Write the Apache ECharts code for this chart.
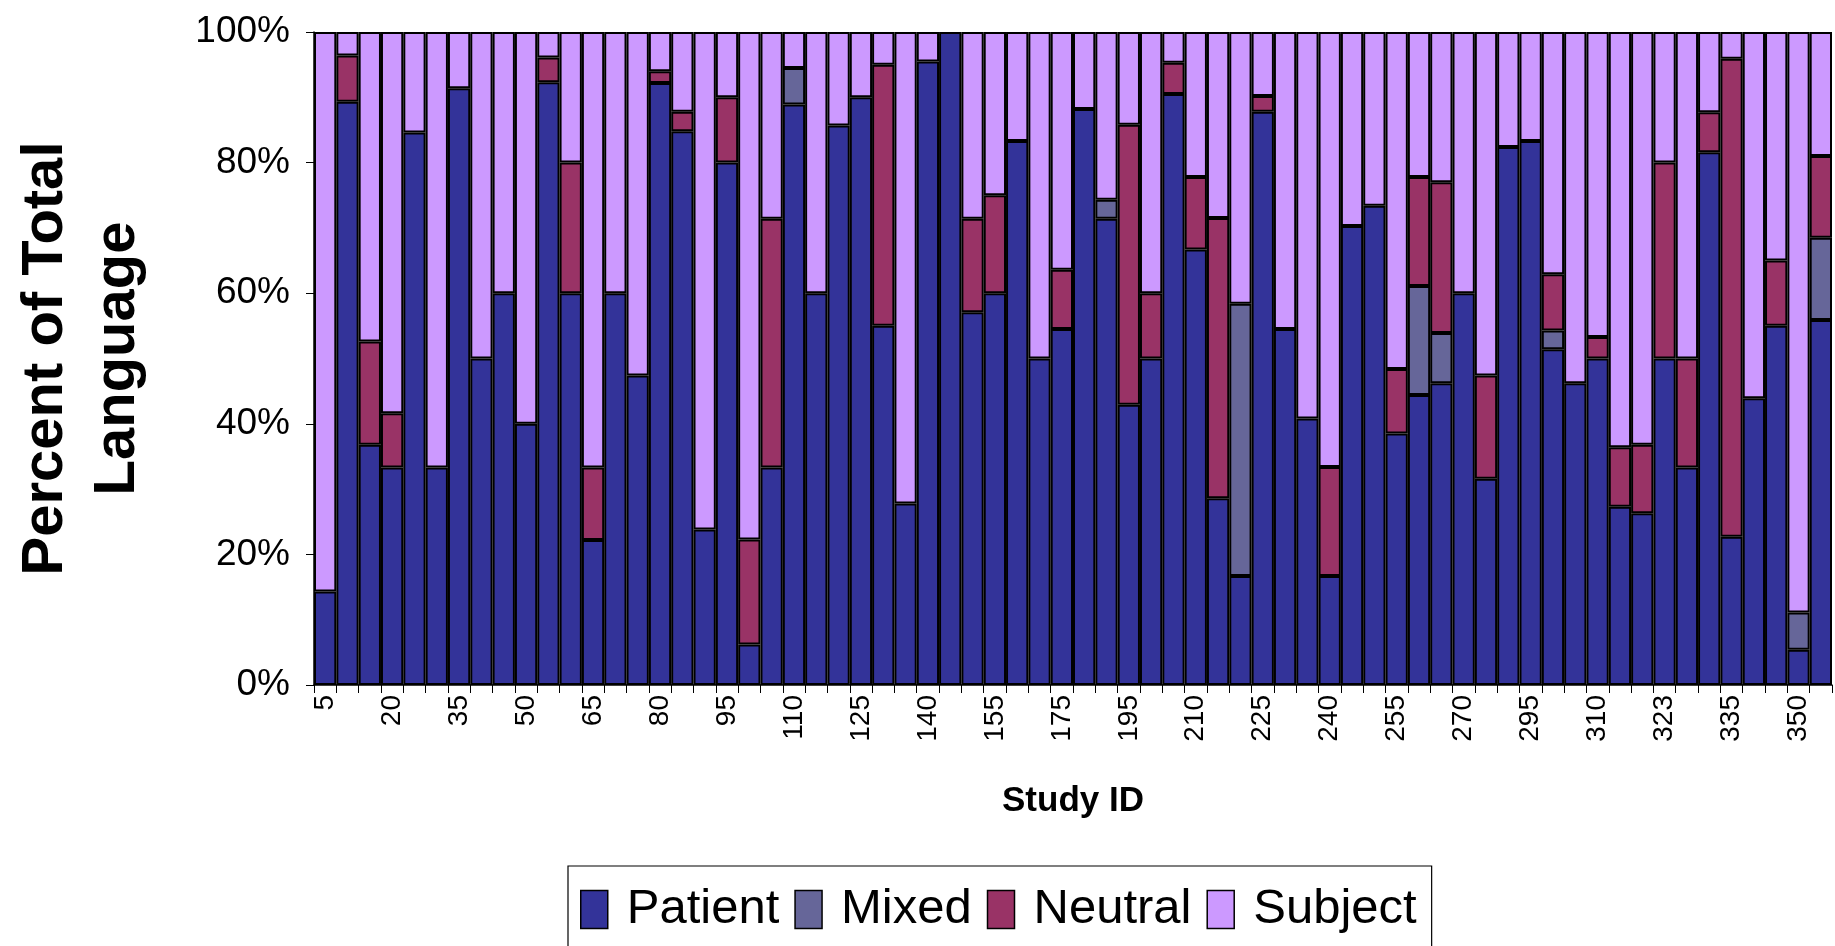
<!DOCTYPE html>
<html>
<head>
<meta charset="utf-8">
<script src="https://cdn.jsdelivr.net/npm/echarts@6/dist/echarts.min.js"></script>
<style>
html,body{margin:0;padding:0;background:#fff;}
#c{width:1835px;height:946px;}
</style>
</head>
<body>
<div id="c"></div>
<script>
const studyIds = ['5','10','15','20','25','30','35','40','45','50','55','60','65','70','75','80','85','90','95','100','105','110','115','120','125','130','135','140','145','150','155','165','170','175','180','190','195','200','205','210','215','220','225','230','235','240','245','250','255','260','265','270','280','290','295','300','305','310','315','320','323','325','330','335','340','345','350','355'];
const patient = [14.3,89.3,36.8,33.3,84.6,33.3,91.4,50,60,40,92.3,60,22.2,60,47.4,92.2,84.8,23.8,80,6.2,33.3,88.9,60,85.7,90,55,27.8,95.5,100,57.1,60,83.3,50,54.5,88.2,71.4,42.9,50,90.5,66.7,28.6,16.7,87.8,54.5,40.8,16.7,70.3,73.4,38.5,44.4,46.2,60,31.6,82.4,83.3,51.4,46.2,50,27.3,26.3,50,33.3,81.6,22.7,43.9,55,5.4,55.9];
const mixed = [0,0,0,0,0,0,0,0,0,0,0,0,0,0,0,0,0,0,0,0,0,5.6,0,0,0,0,0,0,0,0,0,0,0,0,0,2.9,0,0,0,0,0,41.7,0,0,0,0,0,0,0,16.7,7.7,0,0,0,0,2.9,0,0,0,0,0,0,0,0,0,0,5.7,12.6];
const neutral = [0,7.1,15.8,8.3,0,0,0,0,0,0,3.8,20,11.1,0,0,1.8,3.0,0,10,16.1,38.1,0,0,0,0,40,0,0,0,14.3,15,0,0,9.1,0,0,42.9,10,4.8,11.1,42.9,0,2.4,0,0,16.7,0,0,9.9,16.7,23.1,0,15.8,0,0,8.6,0,3.3,9.1,10.5,30,16.7,6.1,73.2,0,10,0,12.5];
const subject = [85.7,3.6,47.4,58.4,15.4,66.7,8.6,50,40,60,3.9,20,66.7,40,52.6,6.0,12.2,76.2,10,77.7,28.6,5.5,40,14.3,10,5,72.2,4.5,0,28.6,25,16.7,50,36.4,11.8,25.7,14.2,40,4.7,22.2,28.5,41.6,9.8,45.5,59.2,66.6,29.7,26.6,51.6,22.2,23.0,40,52.6,17.6,16.7,37.1,53.8,46.7,63.6,63.2,20,50,12.3,4.1,56.1,35,88.9,19.0];
const yTicks = [0,20,40,60,80,100];

const FONT = '"Liberation Sans", Arial, sans-serif';
const seriesDefs = [
  {name:'Patient', data:patient, color:'#333399'},
  {name:'Mixed', data:mixed, color:'#666699'},
  {name:'Neutral', data:neutral, color:'#993366'},
  {name:'Subject', data:subject, color:'#CC99FF'}
];

const chart = echarts.init(document.getElementById('c'), null, {renderer:'canvas'});
chart.setOption({
  animation:false,
  backgroundColor:'#fff',
  grid:{left:314, right:3, top:32, bottom:261, containLabel:false},
  legend:{
    left:568, top:866,
    orient:'horizontal',
    padding:[19,15,40,12],
    borderColor:'#000', borderWidth:1.2,
    icon:'rect',
    itemWidth:27, itemHeight:38, itemGap:15,
    data:seriesDefs.map(s=>s.name),
    textStyle:{fontFamily:FONT, fontSize:49, color:'#000', lineHeight:48, padding:[0,0,0,14]},
    itemStyle:{borderColor:'#000', borderWidth:1.5}
  },
  xAxis:{
    type:'category',
    data:studyIds,
    name:'Study ID',
    nameLocation:'middle',
    nameGap:99,
    nameTextStyle:{fontFamily:FONT, fontSize:35, fontWeight:'bold', color:'#000'},
    axisLine:{lineStyle:{color:'#000', width:1.5}},
    axisTick:{show:true, interval:0, length:8, lineStyle:{color:'#000', width:1}},
    axisLabel:{interval:2, rotate:90, margin:10, fontFamily:FONT, fontSize:28, color:'#000'},
    splitLine:{show:false}
  },
  yAxis:{
    type:'value',
    min:0, max:100, interval:20,
    name:'Percent of Total\nLanguage',
    nameLocation:'middle',
    nameGap:160,
    nameRotate:90,
    nameTextStyle:{fontFamily:FONT, fontSize:58, fontWeight:'bold', color:'#000', lineHeight:72, align:'center'},
    axisLine:{show:true, lineStyle:{color:'#000', width:1.5}},
    axisTick:{show:true, length:8, inside:false, lineStyle:{color:'#000', width:1}},
    axisLabel:{margin:24, fontFamily:FONT, fontSize:37, color:'#000',
      formatter:function(v){return yTicks.indexOf(v)>=0 ? v+'%' : '';}},
    splitLine:{show:false}
  },
  series:seriesDefs.map(s=>({
    name:s.name,
    type:'bar',
    stack:'total',
    barCategoryGap:'0%',
    data:s.data.map(v=> v===0 ? null : v),
    itemStyle:{color:s.color, borderColor:'#000', borderWidth:2}
  }))
});
</script>
</body>
</html>
